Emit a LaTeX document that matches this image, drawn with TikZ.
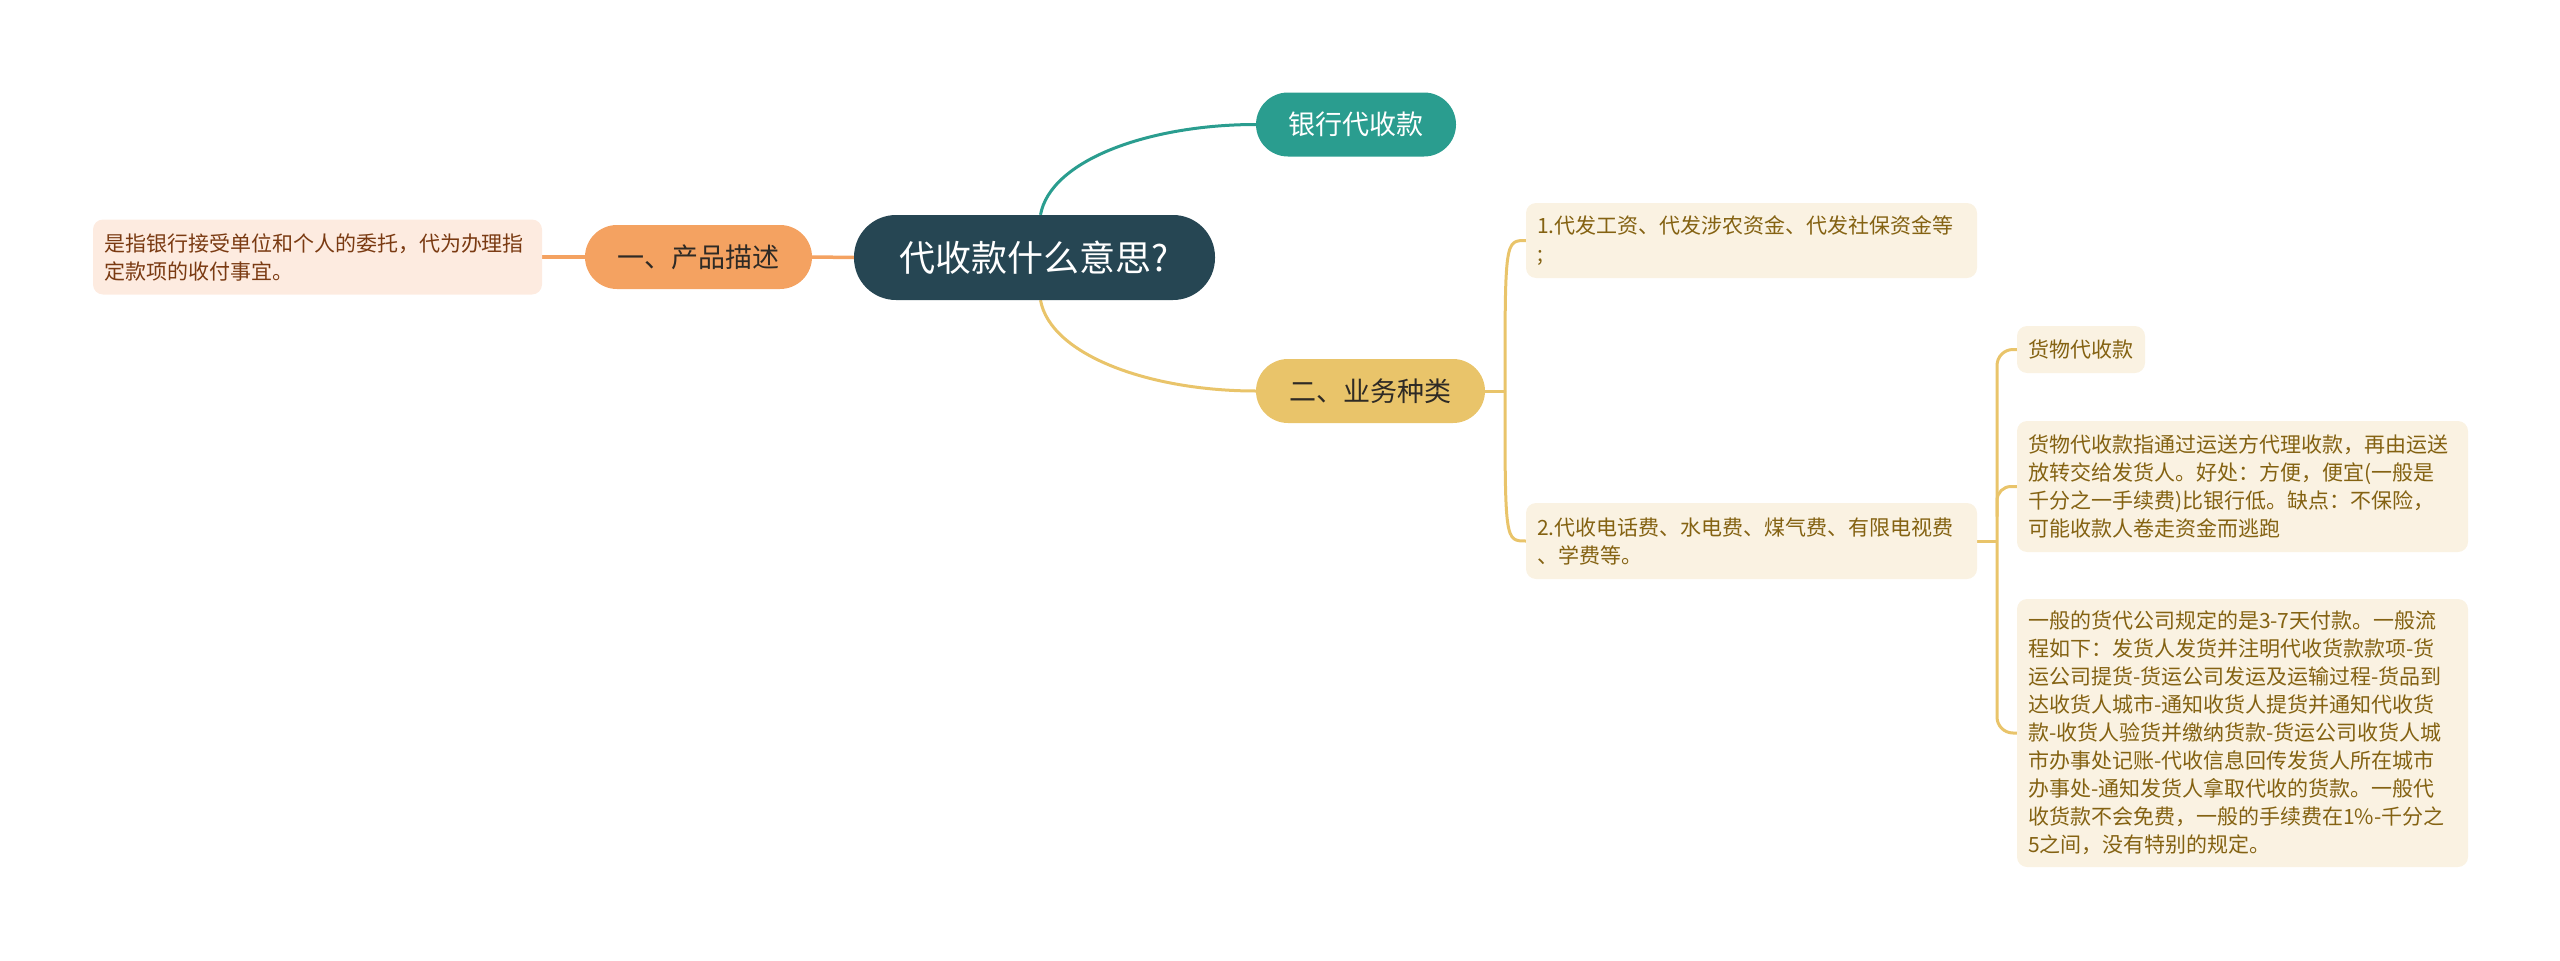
\documentclass[tikz,border=0pt]{standalone}
\usepackage{fontspec}
\setmainfont{Noto Sans CJK SC}
\usetikzlibrary{backgrounds}
\definecolor{rootc}{HTML}{264653}
\definecolor{tealc}{HTML}{2A9D8F}
\definecolor{orangec}{HTML}{F4A261}
\definecolor{yellowc}{HTML}{E9C46A}
\definecolor{leaff}{HTML}{FDEBE0}
\definecolor{leaft}{HTML}{7A3A12}
\definecolor{boxf}{HTML}{FAF2E2}
\definecolor{boxt}{HTML}{846212}
\definecolor{darkt}{HTML}{2E2A25}
\begin{document}
\begin{tikzpicture}[x=1pt,y=-1pt,
  pill/.style={rounded corners=32pt, inner sep=0pt, font=\fontsize{27}{32}\selectfont},
  tbox/.style={rounded corners=10pt, inner xsep=11pt, inner ysep=0pt, align=left, font=\fontsize{21}{28}\selectfont},
  yl/.style={draw=yellowc, line width=3pt},
  ol/.style={draw=orangec, line width=3.5pt},
  tl/.style={draw=tealc, line width=3pt}]
\useasboundingbox (0,0) rectangle (2560,961);

\node[pill, fill=rootc, text=white, minimum width=361pt, minimum height=85pt, rounded corners=42pt, font=\fontsize{36}{40}\selectfont] (root) at (1034.5,257.5) {代收款什么意思?};
\node[pill, fill=orangec, text=darkt, minimum width=227pt, minimum height=64pt] (n1) at (698.5,257) {一、产品描述};
\node[pill, fill=tealc, text=white, minimum width=200pt, minimum height=64pt] (bank) at (1356,124.5) {银行代收款};
\node[pill, fill=yellowc, text=darkt, minimum width=229pt, minimum height=64pt] (n2) at (1370.5,391) {二、业务种类};

\node[tbox, fill=leaff, text=leaft, text width=427pt, minimum height=75pt] (leaf) at (317.5,257) {是指银行接受单位和个人的委托，代为办理指\\定款项的收付事宜。};

\node[tbox, fill=boxf, text=boxt, text width=429pt, minimum height=75pt] (c1) at (1751.5,240.5) {1.代发工资、代发涉农资金、代发社保资金等\\;};
\node[tbox, fill=boxf, text=boxt, text width=429pt, minimum height=76pt] (c2) at (1751.5,541) {2.代收电话费、水电费、煤气费、有限电视费\\、学费等。};

\node[tbox, fill=boxf, text=boxt, minimum width=128pt, minimum height=47pt] (g1) at (2081,349.5) {货物代收款};
\node[tbox, fill=boxf, text=boxt, text width=429pt, minimum height=131pt] (g2) at (2242.5,486.5) {货物代收款指通过运送方代理收款，再由运送\\放转交给发货人。好处：方便，便宜(一般是\\千分之一手续费)比银行低。缺点：不保险，\\可能收款人卷走资金而逃跑};
\node[tbox, fill=boxf, text=boxt, text width=429pt, minimum height=268pt] (g3) at (2242.5,733) {一般的货代公司规定的是3-7天付款。一般流\\程如下：发货人发货并注明代收货款款项-货\\运公司提货-货运公司发运及运输过程-货品到\\达收货人城市-通知收货人提货并通知代收货\\款-收货人验货并缴纳货款-货运公司收货人城\\市办事处记账-代收信息回传发货人所在城市\\办事处-通知发货人拿取代收的货款。一般代\\收货款不会免费，一般的手续费在1\%-千分之\\5之间，没有特别的规定。};

\begin{scope}[on background layer]
\draw[ol] (leaf.east) -- (n1.west);
\draw[ol] (n1.east) -- (root.west);
\draw[tl] ([xshift=6pt]root.north) .. controls +(10,-55) and +(-106,0) .. (bank.west);
\draw[yl] ([xshift=6pt]root.south) .. controls +(10,55) and +(-106,0) .. (n2.west);
\coordinate (bx) at (1505,391);
\draw[yl] (n2.east) -- (bx);
\draw[yl] (bx) .. controls (bx |- c1.west) .. (c1.west);
\draw[yl] (bx) .. controls (bx |- c2.west) .. (c2.west);
\coordinate (gx) at (1997,541);
\draw[yl] (c2.east) -- (gx);
\draw[yl, rounded corners=16pt] (g1.west) -- (gx |- g1.west) -- (gx |- g3.west) -- (g3.west);
\draw[yl, rounded corners=14pt] (gx |- g2.west) ++(0,30) -- ++(0,-30) -- (g2.west);
\end{scope}
\end{tikzpicture}
\end{document}
